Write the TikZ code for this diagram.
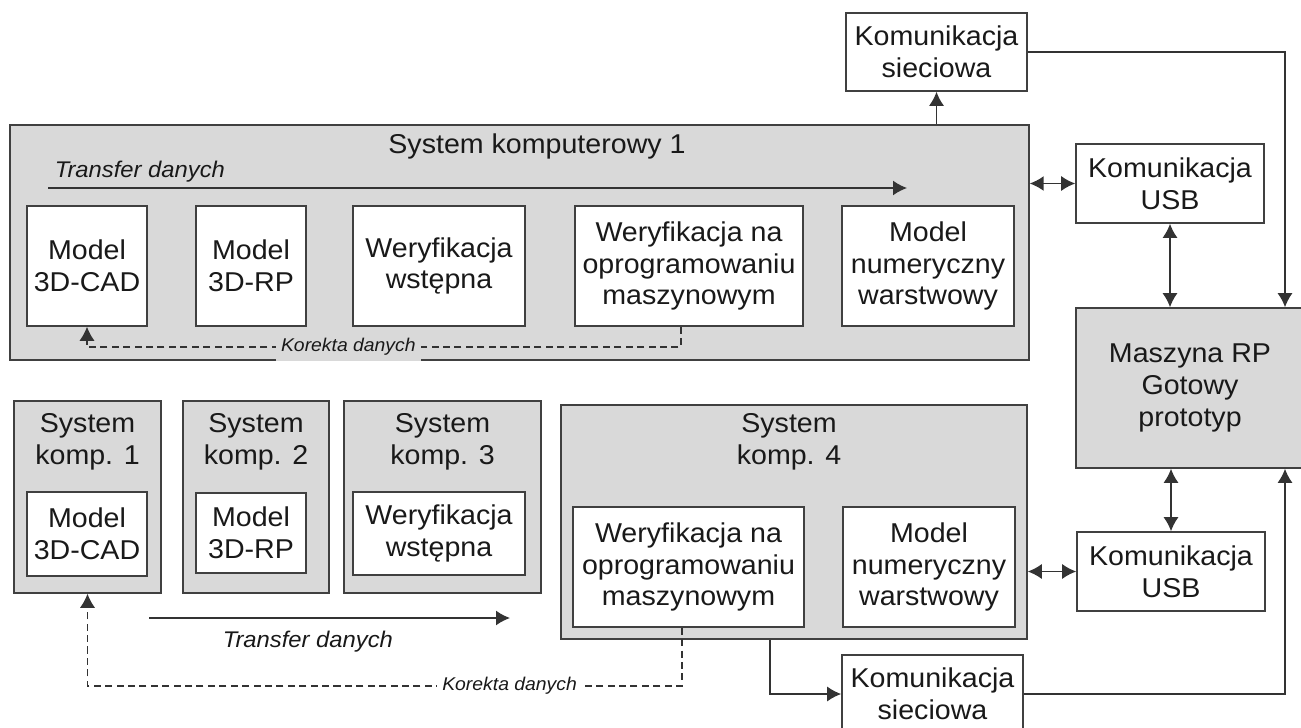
\documentclass[tikz,border=0pt]{standalone}
\usepackage{fontspec}
\setmainfont{Liberation Sans}[FakeStretch=1.05]
\usetikzlibrary{arrows.meta,positioning}

\begin{document}
\begin{tikzpicture}[x=0.02cm,y=-0.02cm,line width=0.9pt,>={Latex[length=2.8mm,width=3mm]}]
            \tikzstyle{every node}=[text=black!90,font=\fontsize{15.5}{18}\selectfont]
            \tikzstyle{sysbox}=[draw=black!75,fill=black!15,inner sep=0pt,align=center]
            \tikzstyle{modbox}=[draw=black!75,fill=white,inner sep=0pt,align=center]
            \tikzstyle{ttl}=[align=center,inner sep=0pt]
            \tikzstyle{trf}=[inner sep=0pt,font=\fontsize{12.9}{15}\selectfont\itshape]
            \tikzstyle{kor}=[inner sep=3pt,font=\fontsize{10.5}{12}\selectfont\itshape]
            \tikzstyle{link}=[draw=black!80]
            \tikzstyle{back}=[draw=black!80,dash pattern=on 4pt off 2.5pt,line width=0.6pt]

            \useasboundingbox (0,0) rectangle (1301,727);

            \node[sysbox,minimum width=20.38cm,minimum height=4.7cm] (sys1) at (519.5,242.5) {};
            \node[ttl,anchor=base] (sys1t) at (537,153) {System komputerowy 1};
            \node[modbox,minimum width=2.4cm,minimum height=2.4cm] (cadA) at (87,266) {Model\\3D-CAD};
            \node[modbox,minimum width=2.2cm,minimum height=2.4cm] (rpA) at (251,266) {Model\\3D-RP};
            \node[modbox,minimum width=3.44cm,minimum height=2.4cm] (werA) at (439,266) {Weryfikacja\\wstępna};
            \node[modbox,minimum width=4.56cm,minimum height=2.4cm] (oprA) at (689,266) {Weryfikacja na\\oprogramowaniu\\maszynowym};
            \node[modbox,minimum width=3.44cm,minimum height=2.4cm] (numA) at (928,266) {Model\\numeryczny\\warstwowy};

            \node[modbox,minimum width=3.62cm,minimum height=1.56cm] (netA) at (936.5,52) {Komunikacja\\sieciowa};
            \node[modbox,minimum width=3.76cm,minimum height=1.58cm] (usbA) at (1170,183.5) {Komunikacja\\USB};
            \node[sysbox,minimum width=4.56cm,minimum height=3.2cm] (rp) at (1190,388) {Maszyna RP\\Gotowy\\prototyp};
            \node[modbox,minimum width=3.76cm,minimum height=1.58cm] (usbB) at (1171,571.5) {Komunikacja\\USB};
            \node[modbox,minimum width=3.62cm,minimum height=1.56cm] (netB) at (932.5,694) {Komunikacja\\sieciowa};

            \node[sysbox,minimum width=2.94cm,minimum height=3.84cm] (sk1) at (87.5,497) {};
            \node[ttl] (sk1t) at (87.5,442) {System\\komp. 1};
            \node[modbox,minimum width=2.4cm,minimum height=1.68cm] (cadB) at (87,534) {Model\\3D-CAD};
            \node[sysbox,minimum width=2.92cm,minimum height=3.84cm] (sk2) at (256,497) {};
            \node[ttl] (sk2t) at (256,442) {System\\komp. 2};
            \node[modbox,minimum width=2.2cm,minimum height=1.6cm] (rpB) at (251,533) {Model\\3D-RP};
            \node[sysbox,minimum width=3.94cm,minimum height=3.84cm] (sk3) at (442.5,497) {};
            \node[ttl] (sk3t) at (442.5,442) {System\\komp. 3};
            \node[modbox,minimum width=3.44cm,minimum height=1.66cm] (werB) at (439,533.5) {Weryfikacja\\wstępna};
            \node[sysbox,minimum width=9.32cm,minimum height=4.68cm] (sk4) at (794,522) {};
            \node[ttl] (sk4t) at (789,442) {System\\komp. 4};
            \node[modbox,minimum width=4.62cm,minimum height=2.4cm] (oprB) at (688.5,567) {Weryfikacja na\\oprogramowaniu\\maszynowym};
            \node[modbox,minimum width=3.44cm,minimum height=2.4cm] (numB) at (929,567) {Model\\numeryczny\\warstwowy};

            \coordinate (trA1) at (48,188);
            \coordinate (trA2) at (907,188);
            \draw[link,->] (trA1) -- (trA2);
            \node[trf,anchor=base west] (trAt) at (54,177) {Transfer danych};
            \coordinate (trB1) at (149,618);
            \coordinate (trB2) at (510,618);
            \draw[link,->] (trB1) -- (trB2);
            \node[trf,anchor=base west] (trBt) at (222,647) {Transfer danych};

            \coordinate (kA) at (681,347);
            \draw[back,->] (kA |- oprA.south) -- (kA) -- node[kor,pos=0.56,fill=black!15] (korA) {Korekta danych} (kA -| cadA.south) -- (cadA.south);
            \coordinate (kB) at (682,686);
            \draw[back,->] (kB |- oprB.south) -- (kB) -- node[kor,pos=0.29,fill=white] (korB) {Korekta danych} (kB -| sk1.south) -- (sk1.south);

            \coordinate (rail) at (1285,0);
            \coordinate (down) at (770,0);
            \draw[link,->] (netA.south |- sys1.north) -- (netA.south);
            \draw[link,<->] (sys1.east |- usbA.west) -- (usbA.west);
            \draw[link,<->] (usbA.south) -- (usbA.south |- rp.north);
            \draw[link,->] (netA.east) -| (rail |- rp.north);
            \draw[link,<->] (usbB.north |- rp.south) -- (usbB.north);
            \draw[link,<->] (sk4.east |- usbB.west) -- (usbB.west);
            \draw[link,->] (down |- sk4.south) |- (netB.west);
            \draw[link,->] (netB.east) -| (rail |- rp.south);
\end{tikzpicture}
\end{document}
